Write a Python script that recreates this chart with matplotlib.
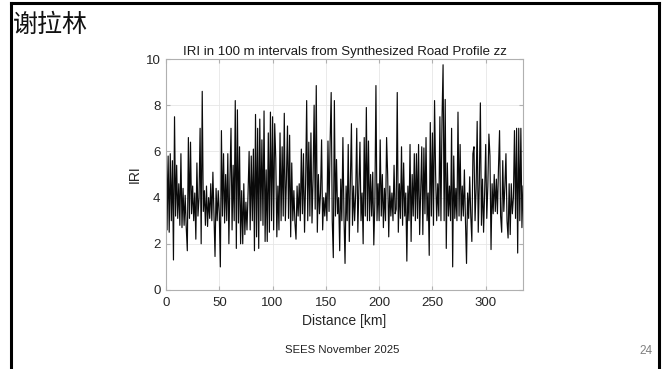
import matplotlib
matplotlib.use('Agg')
from matplotlib import pyplot as plt
from matplotlib.lines import Line2D
import numpy as np

# IRI values, one per km (0..335 km).
iri = [
    7.7, 2.6, 5.8, 2.5, 5.9, 3.0, 5.6, 1.3, 7.5, 3.2,
    5.4, 3.1, 4.6, 2.8, 5.9, 2.7, 4.4, 2.8, 4.1, 2.7,
    1.7, 6.6, 3.1, 6.4, 3.3, 4.5, 3.0, 4.2, 2.2, 5.5,
    3.2, 4.0, 7.0, 2.0, 8.6, 3.4, 4.3, 2.8, 4.5, 2.75,
    4.0, 3.1, 4.6, 3.0, 5.1, 3.2, 1.45, 4.4, 3.0, 4.3,
    3.3, 1.0, 6.9, 3.2, 5.9, 2.9, 5.0, 3.0, 5.9, 2.0,
    4.8, 7.0, 2.6, 5.4, 3.0, 8.2, 1.8, 7.8, 2.9, 6.2,
    2.0, 4.3, 2.0, 4.6, 2.4, 3.8, 2.6, 4.2, 6.0, 2.6,
    5.8, 3.0, 6.1, 1.7, 7.6, 2.3, 7.0, 1.8, 7.4, 3.0,
    6.5, 2.8, 7.75, 2.1, 5.2, 2.1, 6.8, 2.5, 7.7, 3.0,
    7.5, 2.6, 7.2, 5.7, 2.3, 4.5, 2.6, 6.8, 3.0, 6.2,
    3.2, 7.65, 3.0, 4.8, 7.1, 3.1, 6.7, 2.3, 5.5, 3.0,
    4.3, 2.9, 2.2, 4.5, 3.2, 4.6, 3.0, 6.1, 3.3, 5.9,
    2.5, 4.6, 8.2, 3.0, 6.4, 3.2, 6.8, 2.9, 4.8, 8.0,
    3.5, 8.85, 2.5, 5.0, 3.3, 4.2, 6.5, 2.6, 4.0, 3.2,
    4.2, 3.0, 6.45, 3.4, 6.4, 8.55, 3.0, 1.4, 8.2, 3.2,
    5.65, 3.3, 4.0, 1.7, 4.8, 3.0, 6.6, 3.2, 1.15, 4.5,
    3.0, 6.3, 2.1, 4.6, 7.2, 2.8, 4.5, 3.0, 4.2, 7.0,
    2.5, 4.4, 6.4, 3.0, 4.2, 2.0, 6.6, 3.2, 7.9, 3.0,
    6.45, 3.0, 5.0, 3.2, 5.1, 1.95, 3.8, 8.85, 3.0, 4.6,
    3.0, 6.5, 3.2, 5.0, 2.7, 4.4, 3.0, 6.6, 5.0, 2.3,
    4.5, 3.2, 4.2, 3.0, 5.4, 3.3, 3.5, 8.55, 2.5, 4.6,
    3.1, 6.2, 2.8, 5.5, 3.2, 4.2, 1.25, 4.5, 3.0, 6.3,
    2.1, 5.0, 3.2, 5.9, 3.0, 5.9, 3.1, 6.3, 2.4, 4.4,
    6.2, 2.4, 6.15, 3.3, 6.6, 3.0, 4.2, 1.5, 7.25, 3.2,
    6.8, 2.8, 8.2, 5.0, 3.0, 4.6, 3.2, 7.5, 3.0, 7.4,
    9.75, 3.0, 8.25, 1.8, 5.5, 3.2, 4.5, 3.0, 7.0, 1.0,
    5.8, 3.1, 4.4, 3.0, 7.7, 3.2, 6.3, 3.0, 4.5, 3.2,
    5.2, 3.0, 1.15, 4.2, 3.1, 4.9, 3.2, 2.1, 5.9, 6.2,
    3.0, 4.4, 7.3, 2.5, 4.6, 8.1, 2.8, 4.8, 2.5, 4.2,
    6.3, 3.1, 4.5, 6.75, 5.8, 1.75, 4.6, 3.3, 5.0, 3.4,
    4.8, 3.3, 5.3, 6.9, 3.2, 2.5, 5.6, 3.4, 4.5, 5.9,
    3.0, 2.25, 4.6, 2.4, 4.6, 3.3, 4.0, 6.9, 3.1, 7.0,
    1.6, 7.0, 3.0, 7.0, 2.7, 4.5,
]
distance = np.arange(len(iri))

x_ticks = [0, 50, 100, 150, 200, 250, 300]
y_ticks = [0, 2, 4, 6, 8, 10]

plt.rcParams['font.family'] = ['Liberation Sans', 'DejaVu Sans']

fig = plt.figure(dpi=100, figsize=(6.69, 3.69))

# Slide frame and texts.
frame = dict(color='black', lw=2.2, transform=fig.transFigure)
fig.add_artist(Line2D([11 / 669, 11 / 669], [0, 1 - 3 / 369], **frame))
fig.add_artist(Line2D([659 / 669, 659 / 669], [0, 1 - 3 / 369], **frame))
fig.add_artist(Line2D([11 / 669, 659 / 669], [1 - 3 / 369, 1 - 3 / 369], **frame))
fig.text(13 / 669, 1 - 25 / 369, '谢拉林', fontsize=18, va='center',
         family=['Noto Sans CJK SC', 'DejaVu Sans'], color='#111111')
fig.text(342 / 669, 1 - 350 / 369, 'SEES November 2025', fontsize=8.2,
         ha='center', va='center', color='#222222')
fig.text(646 / 669, 1 - 351 / 369, '24', fontsize=8.5, ha='center',
         va='center', color='#808080')

# Plot data
ax = fig.add_axes([166 / 669, 1 - 290 / 369, 357 / 669, 231 / 369])
ax.plot(distance, iri, c='#0a0a0a', lw=0.85)

# Format plot.
ax.set_xlim(0, 335)
ax.set_ylim(0, 10)
ax.set_xticks(x_ticks)
ax.set_yticks(y_ticks)
ax.grid(True, color='#e6e6e6', lw=0.6)
ax.set_axisbelow(True)
for s in ax.spines.values():
    s.set_color('#b0b0b0')
    s.set_linewidth(0.8)
ax.tick_params(direction='in', length=3, labelsize=9.5, colors='#262626',
               top=True, right=True)
ax.tick_params(axis='x', pad=5)
ax.tick_params(axis='y', pad=4)
ax.tick_params(color='#b0b0b0')
ax.set_title('IRI in 100 m intervals from Synthesized Road Profile zz',
             fontsize=9.5, color='#1a1a1a', pad=3)
ax.set_xlabel('Distance [km]', fontsize=10, color='#262626', labelpad=4)
ax.set_ylabel('IRI', fontsize=10, color='#262626', labelpad=3)

fig.savefig('out.png', dpi=100)
